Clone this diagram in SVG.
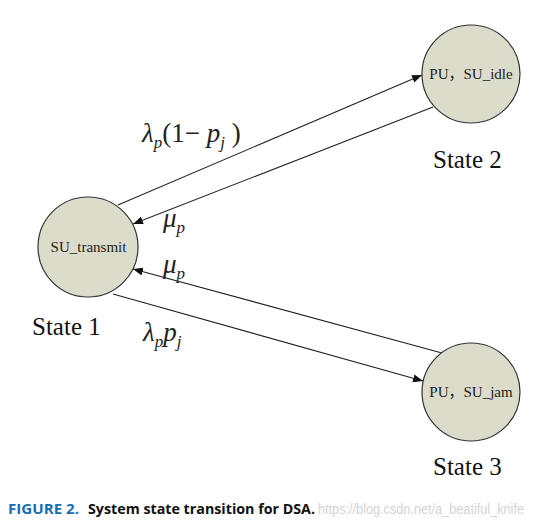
<svg xmlns="http://www.w3.org/2000/svg" width="536" height="523" viewBox="0 0 536 523">
<style>
.node{fill:#dcdccb;stroke:#333;stroke-width:1.2}
.ntext{font-family:"Liberation Serif","Noto Sans CJK SC",serif;font-size:15px;fill:#222;text-anchor:middle}
.state{font-family:"Liberation Serif",serif;font-size:25px;fill:#111}
.edge{stroke:#222;stroke-width:1.1;fill:none;marker-end:url(#arr)}
.math{font-family:"Liberation Serif",serif;font-style:italic;font-size:27px;fill:#222}
.sub{font-size:17px}
.cap{font-family:"Open Sans","Noto Sans",sans-serif;font-weight:bold;font-size:15px}
</style>
<defs>
<marker id="arr" viewBox="0 0 10 8" refX="10" refY="4" markerWidth="10" markerHeight="8" markerUnits="userSpaceOnUse" orient="auto">
<path d="M0,0 L10,4 L0,8 Z" fill="#111"/>
</marker>
</defs>
<rect width="536" height="523" fill="#fff"/>
<g id="connectors">
<line class="edge" x1="118" y1="205" x2="422" y2="75"/>
<line class="edge" x1="433" y1="107" x2="133" y2="224"/>
<line class="edge" x1="442" y1="353" x2="133" y2="269"/>
<line class="edge" x1="113" y1="294" x2="423" y2="381"/>
</g>
<g id="label-l1p"><text class="math" x="142" y="142">λ<tspan class="sub" dy="6">p</tspan><tspan dy="-6" font-style="normal">(1− </tspan>p<tspan class="sub" dy="6">j</tspan><tspan dy="-6" font-style="normal"> )</tspan></text></g>
<g id="label-mu1"><text class="math" x="163" y="227">μ<tspan class="sub" dy="6">p</tspan></text></g>
<g id="label-mu2"><text class="math" x="163" y="273">μ<tspan class="sub" dy="6">p</tspan></text></g>
<g id="label-lp"><text class="math" x="143" y="341">λ<tspan class="sub" dy="6">p</tspan><tspan dy="-6">p</tspan><tspan class="sub" dy="6">j</tspan></text></g>
<g id="state1">
<circle class="node" cx="88" cy="247" r="50"/>
<text class="ntext" x="88.5" y="252">SU_transmit</text>
<text class="state" x="32" y="335">State 1</text>
</g>
<g id="state2">
<circle class="node" cx="471" cy="74" r="49"/>
<text class="ntext" x="471" y="79">PU，SU_idle</text>
<text class="state" x="433" y="168">State 2</text>
</g>
<g id="state3">
<circle class="node" cx="471" cy="392" r="49"/>
<text class="ntext" x="471" y="397">PU，SU_jam</text>
<text class="state" x="433" y="475">State 3</text>
</g>
<g id="caption">
<text class="cap" x="8" y="514" fill="#1a6cb3" textLength="71" lengthAdjust="spacingAndGlyphs">FIGURE 2.</text>
<text class="cap" x="88" y="514" fill="#111" textLength="227" lengthAdjust="spacingAndGlyphs">System state transition for DSA.</text>
<text x="318" y="514" font-family="Liberation Sans,sans-serif" font-size="14" fill="#d4d4d4" textLength="206" lengthAdjust="spacingAndGlyphs">https://blog.csdn.net/a_beatiful_knife</text>
</g>
</svg>
